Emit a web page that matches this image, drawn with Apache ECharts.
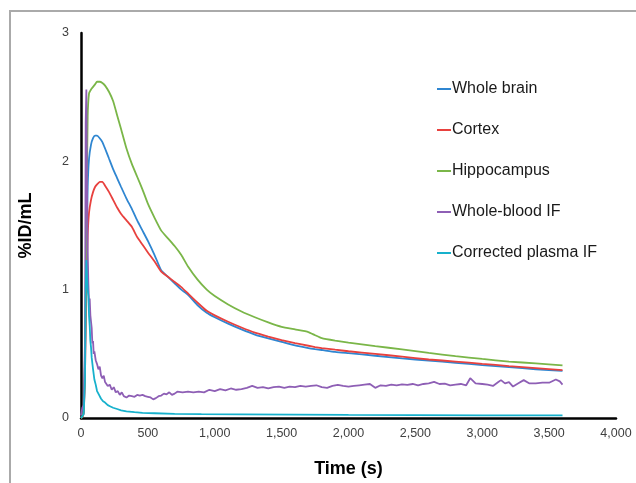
<!DOCTYPE html>
<html>
<head>
<meta charset="utf-8">
<script src="https://cdn.jsdelivr.net/npm/echarts@6/dist/echarts.min.js"></script>
<style>
  html, body { margin: 0; padding: 0; background: #fff; }
  #chart { width: 636px; height: 483px; }
</style>
</head>
<body>
<div id="chart"></div>
<script>
// Sampling times (s) for the tissue time-activity curves
const tissueTimes = [0, 10, 20, 30, 40, 50, 60, 75, 90, 105, 120, 140, 160, 180, 210, 240, 270, 300, 340, 380, 420, 460, 500, 550, 600, 650, 700, 750, 800, 870, 940, 1000, 1100, 1200, 1300, 1400, 1500, 1600, 1700, 1750, 1800, 1900, 2000, 2200, 2400, 2600, 2800, 3000, 3200, 3400, 3600];

// %ID/mL
const wholeBrain = [0, 0.01, 0.05, 0.45, 1.25, 1.8, 2.02, 2.13, 2.18, 2.2, 2.2, 2.18, 2.15, 2.1, 2.02, 1.94, 1.87, 1.8, 1.71, 1.63, 1.54, 1.46, 1.38, 1.27, 1.15, 1.1, 1.05, 1.0, 0.96, 0.88, 0.82, 0.785, 0.735, 0.69, 0.65, 0.62, 0.593, 0.565, 0.545, 0.537, 0.53, 0.515, 0.505, 0.485, 0.465, 0.447, 0.43, 0.412, 0.396, 0.38, 0.367];
const cortex = [0, 0.01, 0.04, 0.35, 1.0, 1.42, 1.6, 1.7, 1.76, 1.8, 1.82, 1.84, 1.84, 1.81, 1.76, 1.7, 1.64, 1.59, 1.54, 1.49, 1.41, 1.35, 1.29, 1.22, 1.14, 1.1, 1.06, 1.02, 0.97, 0.9, 0.835, 0.8, 0.75, 0.705, 0.665, 0.635, 0.607, 0.583, 0.563, 0.553, 0.545, 0.532, 0.52, 0.5, 0.478, 0.456, 0.44, 0.422, 0.405, 0.389, 0.373];
const hippocampus = [0, 0.01, 0.05, 0.5, 1.5, 2.35, 2.53, 2.56, 2.58, 2.6, 2.62, 2.62, 2.61, 2.59, 2.54, 2.47, 2.36, 2.25, 2.1, 1.98, 1.88, 1.78, 1.67, 1.56, 1.46, 1.4, 1.34, 1.27, 1.18, 1.08, 1.0, 0.95, 0.885, 0.83, 0.785, 0.745, 0.71, 0.69, 0.67, 0.645, 0.622, 0.603, 0.588, 0.56, 0.535, 0.507, 0.482, 0.46, 0.44, 0.425, 0.41];

// Whole-blood image-derived input function
const bloodTimes = [0, 10, 20, 30, 35, 40, 45, 50, 55, 60, 65, 70, 75, 80, 85, 90, 95, 100, 110, 120, 130, 140, 150, 160, 170, 180, 190, 200, 215, 230, 245, 260, 275, 290, 305, 320, 340, 360, 380, 400, 420, 440, 460, 480, 500, 520, 540, 560, 580, 600, 620, 640, 660, 680, 700, 720, 760, 800, 840, 880, 920, 960, 1000, 1040, 1080, 1120, 1160, 1200, 1240, 1280, 1320, 1360, 1400, 1440, 1480, 1520, 1560, 1600, 1640, 1680, 1720, 1760, 1800, 1840, 1880, 1920, 1960, 2000, 2040, 2080, 2120, 2160, 2200, 2240, 2280, 2320, 2360, 2400, 2440, 2480, 2520, 2560, 2600, 2640, 2680, 2720, 2760, 2800, 2840, 2880, 2910, 2950, 3000, 3040, 3080, 3120, 3140, 3170, 3200, 3230, 3270, 3310, 3350, 3400, 3450, 3500, 3550, 3580, 3600];
const wholeBloodIF = [0.02, 0.08, 0.1, 0.6, 2.3, 2.56, 1.8, 1.3, 1.05, 0.9, 0.93, 0.8, 0.75, 0.7, 0.58, 0.6, 0.5, 0.52, 0.45, 0.42, 0.38, 0.4, 0.33, 0.31, 0.33, 0.28, 0.27, 0.25, 0.26, 0.22, 0.24, 0.2, 0.21, 0.18, 0.2, 0.17, 0.16, 0.175, 0.17, 0.165, 0.18, 0.175, 0.18, 0.17, 0.165, 0.16, 0.145, 0.155, 0.17, 0.175, 0.19, 0.185, 0.2, 0.18, 0.19, 0.205, 0.2, 0.205, 0.2, 0.205, 0.2, 0.22, 0.21, 0.225, 0.215, 0.23, 0.22, 0.225, 0.235, 0.25, 0.235, 0.24, 0.23, 0.24, 0.245, 0.235, 0.245, 0.24, 0.25, 0.245, 0.25, 0.255, 0.24, 0.235, 0.25, 0.258, 0.25, 0.245, 0.25, 0.255, 0.26, 0.265, 0.235, 0.255, 0.25, 0.26, 0.255, 0.262, 0.258, 0.265, 0.255, 0.265, 0.27, 0.282, 0.265, 0.268, 0.255, 0.26, 0.265, 0.255, 0.31, 0.27, 0.265, 0.26, 0.25, 0.28, 0.295, 0.27, 0.28, 0.245, 0.27, 0.295, 0.27, 0.27, 0.275, 0.275, 0.3, 0.285, 0.26];

// Partial-volume corrected plasma input function
const plasmaTimes = [0, 10, 20, 30, 35, 40, 45, 50, 55, 60, 65, 70, 75, 80, 90, 100, 110, 120, 135, 150, 165, 180, 200, 220, 240, 270, 300, 340, 400, 460, 550, 700, 900, 1200, 1600, 2000, 2500, 3000, 3600];
const correctedPlasmaIF = [0, 0.01, 0.03, 0.3, 1.0, 1.23, 1.1, 1.0, 0.95, 0.8, 0.72, 0.6, 0.55, 0.47, 0.38, 0.3, 0.26, 0.21, 0.18, 0.15, 0.13, 0.12, 0.1, 0.09, 0.08, 0.07, 0.06, 0.052, 0.045, 0.04, 0.037, 0.032, 0.03, 0.028, 0.026, 0.024, 0.022, 0.02, 0.02];

const seriesNames = ['Whole brain', 'Cortex', 'Hippocampus', 'Whole-blood IF', 'Corrected plasma IF'];
const seriesColors = ['#2f86d1', '#e8413e', '#7ab648', '#8e5fb5', '#17b1cc'];

const pair = (ts, vs) => ts.map((t, i) => [t, vs[i]]);
const curves = [
  pair(tissueTimes, wholeBrain),
  pair(tissueTimes, cortex),
  pair(tissueTimes, hippocampus),
  pair(bloodTimes, wholeBloodIF),
  pair(plasmaTimes, correctedPlasmaIF)
];
// tissue curves are drawn slightly smoothed, input functions raw
const smoothing = [0.15, 0.15, 0.15, 0, 0];

const font = '"Liberation Sans", Arial, Helvetica, sans-serif';
const chart = echarts.init(document.getElementById('chart'), null, { renderer: 'canvas' });

chart.setOption({
  animation: false,
  backgroundColor: '#fff',
  color: seriesColors,
  textStyle: { fontFamily: font },
  graphic: [
    { type: 'line', shape: { x1: 10, y1: 11, x2: 636, y2: 11 }, style: { stroke: '#aaaaaa', lineWidth: 2 } },
    { type: 'line', shape: { x1: 10, y1: 10, x2: 10, y2: 483 }, style: { stroke: '#aaaaaa', lineWidth: 2 } }
  ],
  grid: { left: 81, right: 20, top: 33, bottom: 63, containLabel: false },
  legend: {
    orient: 'vertical',
    left: 432,
    top: 76,
    itemGap: 25,
    itemWidth: 14,
    itemHeight: 2,
    icon: 'rect',
    textStyle: { fontFamily: font, fontSize: 16, color: '#1a1a1a', padding: [0, 0, 0, -4] },
    data: seriesNames
  },
  xAxis: {
    type: 'value',
    min: 0,
    max: 4000,
    interval: 500,
    name: 'Time (s)',
    nameLocation: 'middle',
    nameGap: 42,
    nameTextStyle: { fontFamily: font, fontSize: 18, fontWeight: 'bold', color: '#000' },
    axisLine: { lineStyle: { color: '#000', width: 2.5 } },
    axisTick: { show: false },
    splitLine: { show: false },
    axisLabel: {
      margin: 9,
      fontFamily: font,
      fontSize: 12.5,
      color: '#404040',
      formatter: v => v.toLocaleString('en-US')
    }
  },
  yAxis: {
    type: 'value',
    min: 0,
    max: 3,
    interval: 1,
    name: '%ID/mL',
    nameLocation: 'middle',
    nameGap: 46,
    nameTextStyle: { fontFamily: font, fontSize: 18, fontWeight: 'bold', color: '#000' },
    axisLine: { show: true, lineStyle: { color: '#000', width: 2.5 } },
    axisTick: { show: false },
    splitLine: { show: false },
    axisLabel: { margin: 12, fontFamily: font, fontSize: 12.5, color: '#404040' }
  },
  series: seriesNames.map((name, i) => ({
    name,
    type: 'line',
    data: curves[i],
    showSymbol: false,
    symbol: 'none',
    smooth: smoothing[i],
    lineStyle: { width: 1.8, color: seriesColors[i] },
    z: 2 + i
  }))
});
</script>
</body>
</html>
